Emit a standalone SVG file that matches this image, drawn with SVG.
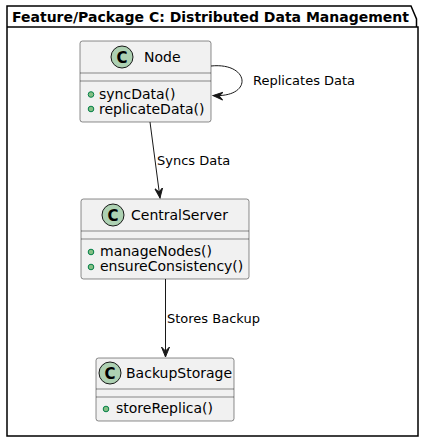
<svg xmlns="http://www.w3.org/2000/svg" width="425" height="443" viewBox="0 0 425 443">
<defs>
<style>
.pkg{fill:none;stroke:#000;stroke-width:1.5}
.box{fill:#F1F1F1;stroke:#181818;stroke-width:0.5}
.sep{stroke:#181818;stroke-width:0.5}
.circ{fill:#ADD1B2;stroke:#181818;stroke-width:1}
.ct{font-family:"DejaVu Sans",sans-serif;font-weight:bold;font-size:15px;fill:#000;text-anchor:middle}
.name{font-family:"DejaVu Sans",sans-serif;font-size:14px;fill:#000}
.mem{font-family:"DejaVu Sans",sans-serif;font-size:14px;fill:#000}
.dot{fill:#84BE84;stroke:#038048;stroke-width:1}
.lbl{font-family:"DejaVu Sans",sans-serif;font-size:13px;fill:#000}
.edge{fill:none;stroke:#181818;stroke-width:1}
.title{font-family:"DejaVu Sans",sans-serif;font-weight:bold;font-size:14px;fill:#000}
</style>
<marker id="ah" markerUnits="userSpaceOnUse" markerWidth="12" markerHeight="12" viewBox="-10 -6 12 12" refX="0" refY="0" orient="auto">
<path d="M0,0 L-10,-4 L-6,0 L-10,4 Z" fill="#181818" stroke="#181818" stroke-width="1"/>
</marker>
</defs>
<g id="package">
<path class="pkg" d="M7,27 L7,6 L411,6 L416.5,19 L416.5,27 L418,27 L418,436 L7,436 L7,27 L416.5,27"/>
<text class="title" x="12" y="22">Feature/Package C: Distributed Data Management</text>
</g>
<g id="connectors">
<path class="edge" d="M211,66 C250,62 254,98 213,95.5" marker-end="url(#ah)"/>
<text class="lbl" x="253" y="85">Replicates Data</text>
<path class="edge" d="M150,122 L160,198" marker-end="url(#ah)"/>
<text class="lbl" x="157" y="165">Syncs Data</text>
<path class="edge" d="M165.5,279 L165.5,357" marker-end="url(#ah)"/>
<text class="lbl" x="167" y="323">Stores Backup</text>
</g>
<g id="Node">
<rect class="box" x="80" y="41" width="131" height="81" rx="2.5"/>
<line class="sep" x1="80" y1="73" x2="211" y2="73"/>
<line class="sep" x1="80" y1="81" x2="211" y2="81"/>
<circle class="circ" cx="122" cy="57" r="11"/>
<text class="ct" x="122" y="62.5">C</text>
<text class="name" x="144" y="62">Node</text>
<circle class="dot" cx="91" cy="94.5" r="2.8"/>
<text class="mem" x="99" y="99">syncData()</text>
<circle class="dot" cx="91" cy="109" r="2.8"/>
<text class="mem" x="99" y="113.5">replicateData()</text>
</g>
<g id="CentralServer">
<rect class="box" x="81" y="199" width="168" height="80" rx="2.5"/>
<line class="sep" x1="81" y1="231" x2="249" y2="231"/>
<line class="sep" x1="81" y1="239" x2="249" y2="239"/>
<circle class="circ" cx="113" cy="215" r="11"/>
<text class="ct" x="113" y="220.5">C</text>
<text class="name" x="131" y="220">CentralServer</text>
<circle class="dot" cx="91" cy="252" r="2.8"/>
<text class="mem" x="100" y="256">manageNodes()</text>
<circle class="dot" cx="91" cy="267" r="2.8"/>
<text class="mem" x="100" y="271">ensureConsistency()</text>
</g>
<g id="BackupStorage">
<rect class="box" x="96" y="358" width="138" height="63" rx="2.5"/>
<line class="sep" x1="96" y1="389" x2="234" y2="389"/>
<line class="sep" x1="96" y1="397" x2="234" y2="397"/>
<circle class="circ" cx="110" cy="373" r="11"/>
<text class="ct" x="110" y="378.5">C</text>
<text class="name" x="126" y="378">BackupStorage</text>
<circle class="dot" cx="106" cy="409" r="2.8"/>
<text class="mem" x="116" y="413">storeReplica()</text>
</g>
</svg>
